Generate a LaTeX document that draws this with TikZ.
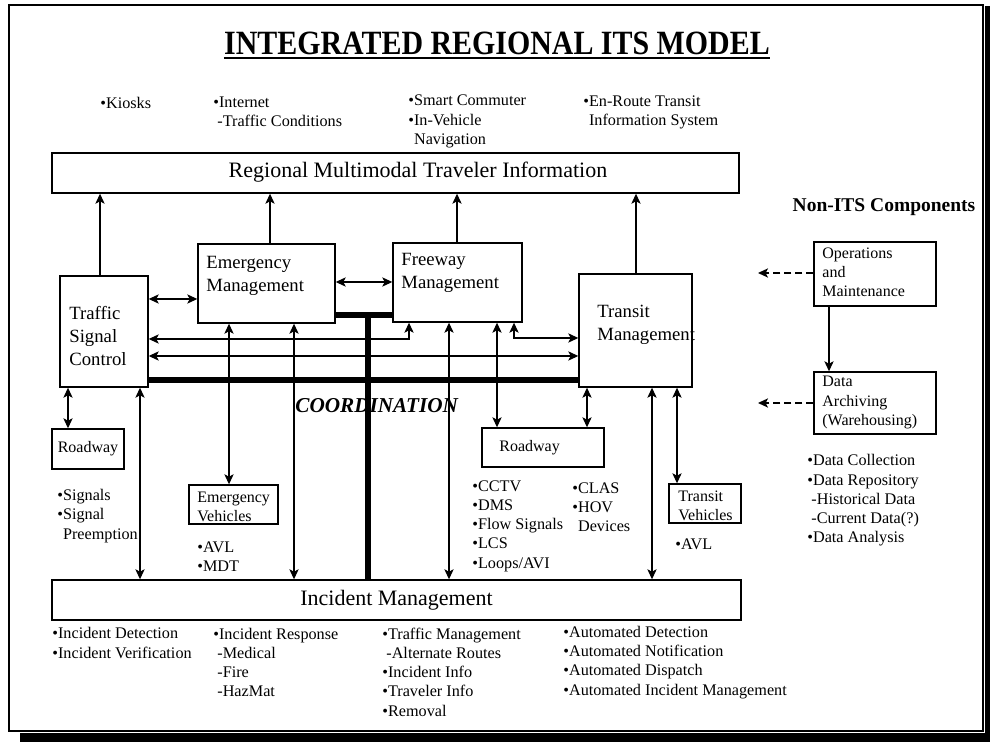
\documentclass[tikz,border=0pt]{standalone}
\usepackage{fontspec}
\setmainfont{Liberation Serif}
\usetikzlibrary{arrows.meta}

\tikzset{
  box/.style={draw, line width=0.7pt, inner sep=0pt},
  boxlabel/.style={inner sep=0pt, anchor=west, align=left, font=\fontsize{9.35}{11.5}\selectfont},
  smallbox/.style={box, font=\fontsize{8}{9.6}\selectfont},
  smalllabel/.style={inner sep=0pt, anchor=west, align=left, font=\fontsize{8}{9.6}\selectfont},
  bullets/.style={inner sep=0pt, anchor=west, align=left, font=\fontsize{8.1}{9.6}\selectfont},
  link/.style={line width=0.7pt, <->},
  uplink/.style={line width=0.7pt, ->},
  coordbar/.style={line width=3pt},
  feed/.style={line width=0.7pt, dash pattern=on 3.5pt off 2pt, ->},
}

\begin{document}
\begin{tikzpicture}[x=0.5pt, y=-0.5pt, >={Stealth[length=5pt,width=4.6pt,inset=1.2pt]}]
  \useasboundingbox (0,0) rectangle (990,742);
  \fill[white] (0,0) rectangle (990,742);

  % frame with shadow
  \fill (20,733) rectangle (990,742);
  \fill (985,6) rectangle (990,742);
  \draw[line width=1.3pt] (9,5) rectangle (983,731);

  % title
  \node[inner sep=0pt, anchor=base, font=\bfseries\fontsize{17}{20}\selectfont] (title) at (497,55)
    {\scalebox{0.88}[1]{INTEGRATED REGIONAL ITS MODEL}};
  \draw[line width=0.9pt] ([yshift=-1.6pt]title.base west) -- ([yshift=-1.6pt]title.base east);

  % traveler information items
  \node[bullets] (kiosk) at (100,103) {•Kiosks};
  \node[bullets] (inet) at (213,112) {•Internet\\\hspace{2pt}-Traffic Conditions};
  \node[bullets] (smart) at (408,121.5) {•Smart Commuter\\•In-Vehicle\\\phantom{•}Navigation};
  \node[bullets] (enroute) at (583,112) {•En-Route Transit\\\phantom{•}Information System};

  % main boxes
  \node[box, minimum width=343.5pt, minimum height=20pt] (rmti) at (395.5,173) {};
  \node[inner sep=0pt, font=\fontsize{11}{13}\selectfont] (rmti-t) at (418,172)
    {Regional Multimodal Traveler Information};
  \node[box, minimum width=44pt, minimum height=55.5pt] (tsc) at (104,331.5) {};
  \node[boxlabel] (tsc-t) at (69,336) {Traffic\\Signal\\Control};
  \node[box, minimum width=68.5pt, minimum height=39.5pt] (em) at (266.5,283.5) {};
  \node[boxlabel] (em-t) at (206,276) {Emergency\\Management};
  \node[box, minimum width=64.5pt, minimum height=39.5pt] (fm) at (457.5,282.5) {};
  \node[boxlabel] (fm-t) at (401,272.5) {Freeway\\Management};
  \node[box, minimum width=56.5pt, minimum height=56.5pt] (tm) at (635.5,330.5) {};
  \node[boxlabel] (tm-t) at (597,325) {Transit\\Management};
  \node[box, minimum width=344.5pt, minimum height=20pt, font=\fontsize{11}{13}\selectfont]
    (im) at (396.5,600) {Incident Management};

  % field boxes
  \node[smallbox, minimum width=36pt, minimum height=20pt] (rw1) at (88,449) {Roadway};
  \node[box, minimum width=61pt, minimum height=19.5pt] (rw2) at (543,447.5) {};
  \node[smalllabel] (rw2-t) at (499,448) {Roadway};
  \node[box, minimum width=44.5pt, minimum height=19.5pt] (ev) at (233.5,504.5) {};
  \node[smalllabel] (ev-t) at (197,506.5) {Emergency\\Vehicles};
  \node[box, minimum width=36pt, minimum height=19.5pt] (tv) at (705,503.5) {};
  \node[smalllabel] (tv-t) at (678,505.5) {Transit\\Vehicles};

  % non-ITS components
  \node[inner sep=0pt, font=\bfseries\fontsize{9.75}{12}\selectfont] (nonits) at (884,207) {Non-ITS Components};
  \node[box, minimum width=61pt, minimum height=32pt] (om) at (875,274) {};
  \node[smalllabel] (om-t) at (822,272.5) {Operations\\and\\Maintenance};
  \node[box, minimum width=61pt, minimum height=31pt] (da) at (875,403) {};
  \node[smalllabel] (da-t) at (822,402.5) {Data\\Archiving\\(Warehousing)};
  \coordinate (om-out) at (758,273);
  \coordinate (da-out) at (758,403);

  % item lists
  \node[bullets] (sig) at (57,516) {•Signals\\•Signal\\\phantom{•}Preemption};
  \node[bullets] (evlist) at (197,556.5) {•AVL\\•MDT};
  \node[bullets] (rwlist) at (472,526) {•CCTV\\•DMS\\•Flow Signals\\•LCS\\•Loops/AVI};
  \node[bullets] (rwlist2) at (572,507) {•CLAS\\•HOV\\\phantom{•}Devices};
  \node[bullets] (tvlist) at (675,544) {•AVL};
  \node[bullets] (datalist) at (807,500.5)
    {•Data Collection\\•Data Repository\\\hspace{2pt}-Historical Data\\\hspace{2pt}-Current Data(?)\\•Data Analysis};
  \node[bullets] (detect) at (52,643) {•Incident Detection\\•Incident Verification};
  \node[bullets] (respond) at (213,662.5) {•Incident Response\\\hspace{2pt}-Medical\\\hspace{2pt}-Fire\\\hspace{2pt}-HazMat};
  \node[bullets] (traffic) at (382,672)
    {•Traffic Management\\\hspace{2pt}-Alternate Routes\\•Incident Info\\•Traveler Info\\•Removal};
  \node[bullets] (auto) at (563,662.5)
    {•Automated Detection\\•Automated Notification\\•Automated Dispatch\\•Automated Incident Management};

  % coordination backbone
  \node[inner sep=0pt, anchor=base west, font=\bfseries\itshape\fontsize{10.6}{12}\selectfont] (coordtxt) at (295,413) {COORDINATION};
  \coordinate (hub) at (368,315);
  \draw[coordbar] (em.east |- hub) -- (fm.west |- hub);
  \draw[coordbar] (tsc.east |- 0,380) -- (tm.west |- 0,380);
  \draw[coordbar] (hub) -- (im.north -| hub);

  % up to traveler information
  \draw[uplink] (tsc.north -| 100,0) -- (rmti.south -| 100,0);
  \draw[uplink] (em.north -| 270,0) -- (rmti.south -| 270,0);
  \draw[uplink] (fm.north -| 457,0) -- (rmti.south -| 457,0);
  \draw[uplink] (tm.north -| 636,0) -- (rmti.south -| 636,0);

  % center to center
  \draw[link] (tsc.east |- 0,299) -- (em.west |- 0,299);
  \draw[link] (em.east |- 0,282) -- (fm.west |- 0,282);
  \draw[link] (tsc.east |- 0,339) -| (fm.south -| 409,0);
  \draw[link] (tsc.east |- 0,356) -- (tm.west |- 0,356);
  \draw[link] (fm.south -| 514,0) |- (tm.west |- 0,338);

  % centers to field and incidents
  \draw[link] (tsc.south -| 68,0) -- (rw1.north -| 68,0);
  \draw[link] (tsc.south -| 140,0) -- (im.north -| 140,0);
  \draw[link] (em.south -| 229,0) -- (ev.north -| 229,0);
  \draw[link] (em.south -| 294,0) -- (im.north -| 294,0);
  \draw[link] (fm.south -| 449,0) -- (im.north -| 449,0);
  \draw[link] (fm.south -| 497,0) -- (rw2.north -| 497,0);
  \draw[link] (tm.south -| 587,0) -- (rw2.north -| 587,0);
  \draw[link] (tm.south -| 652,0) -- (im.north -| 652,0);
  \draw[link] (tm.south -| 677,0) -- (tv.north -| 677,0);

  % non-ITS feeds
  \draw[uplink] (om.south -| 829,0) -- (da.north -| 829,0);
  \draw[feed] (om.west |- om-out) -- (om-out);
  \draw[feed] (da.west |- da-out) -- (da-out);
\end{tikzpicture}
\end{document}
